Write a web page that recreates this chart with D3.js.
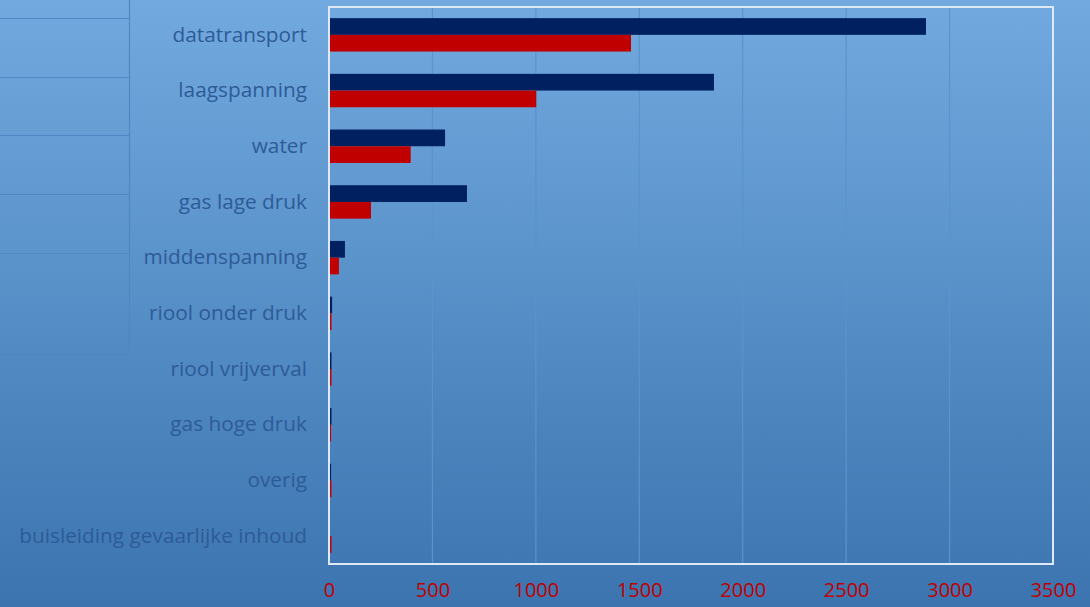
<!DOCTYPE html>
<html><head><meta charset="utf-8">
<script src="https://cdn.jsdelivr.net/npm/d3@7"></script>
<style>html,body{margin:0;padding:0;overflow:hidden;}</style>
</head><body>
<svg id="c" width="1090" height="607"></svg>
<script>
const categories = ["datatransport","laagspanning","water","gas lage druk","middenspanning","riool onder druk","riool vrijverval","gas hoge druk","overig","buisleiding gevaarlijke inhoud"];
const seriesBlue = [2886, 1861, 561, 667, 77, 15, 12, 12, 10, 0];
const seriesRed  = [1460, 1002, 395, 203, 48, 12, 12, 10, 12, 12];
const xTicks = [0,500,1000,1500,2000,2500,3000,3500];

const svg = d3.select("#c");
const W = 1090, H = 607;
const defs = svg.append("defs");
const g = defs.append("linearGradient").attr("id","bg").attr("x1",0).attr("y1",0).attr("x2",0).attr("y2",1);
g.append("stop").attr("offset","0%").attr("stop-color","#72aadf");
g.append("stop").attr("offset","100%").attr("stop-color","#3b74af");
svg.append("rect").attr("width",W).attr("height",H).attr("fill","url(#bg)");

// decorative table lines at top-left
const tbl = svg.append("g").attr("stroke","#4f87c4").attr("stroke-width",1.2).attr("fill","none");
tbl.append("line").attr("x1",129.5).attr("x2",129.5).attr("y1",0).attr("y2",354);
[18,77,135,194,253,354].forEach(y=>tbl.append("line").attr("x1",0).attr("x2",129.5).attr("y1",y+0.5).attr("y2",y+0.5));

const m = {l:329, r:1053, t:7, b:564};
const x = d3.scaleLinear().domain([0,3500]).range([m.l,m.r]);
const y = d3.scaleBand().domain(categories).range([m.t,m.b]).paddingInner(0.4).paddingOuter(0.2);
const sub = d3.scaleBand().domain(["blue","red"]).range([0,y.bandwidth()]);

// gridlines
svg.append("g").selectAll("line").data(xTicks.slice(1,-1)).join("line")
  .attr("x1",d=>x(d)).attr("x2",d=>x(d)).attr("y1",m.t).attr("y2",m.b)
  .attr("stroke","#5b93cd").attr("stroke-width",1.2);

const data = categories.map((c,i)=>({c, blue:seriesBlue[i], red:seriesRed[i]}));
svg.append("g").selectAll("rect").data(data).join("rect")
  .attr("x",x(0)).attr("y",d=>y(d.c)+sub("blue")).attr("height",sub.bandwidth())
  .attr("width",d=>x(d.blue)-x(0)).attr("fill","#002060");
svg.append("g").selectAll("rect").data(data).join("rect")
  .attr("x",x(0)).attr("y",d=>y(d.c)+sub("red")).attr("height",sub.bandwidth())
  .attr("width",d=>x(d.red)-x(0)).attr("fill","#c00000");

// border
svg.append("rect").attr("x",m.l).attr("y",m.t).attr("width",m.r-m.l).attr("height",m.b-m.t)
  .attr("fill","none").attr("stroke","#dfe9f5").attr("stroke-width",2);

// axes
const yAxis = svg.append("g").attr("transform",`translate(${m.l},0)`).call(d3.axisLeft(y).tickSize(0).tickPadding(22));
yAxis.select(".domain").remove();
yAxis.selectAll("text").attr("font-family","'Open Sans', sans-serif").attr("font-size",20.8).attr("fill","#2d5b98");

const xAxis = svg.append("g").attr("transform",`translate(0,${m.b})`).call(d3.axisBottom(x).tickValues(xTicks).tickFormat(d3.format("d")).tickSize(0).tickPadding(19));
xAxis.select(".domain").remove();
xAxis.selectAll("text").attr("font-family","'Open Sans', sans-serif").attr("font-size",20).attr("fill","#c00000");
</script>
</body></html>
